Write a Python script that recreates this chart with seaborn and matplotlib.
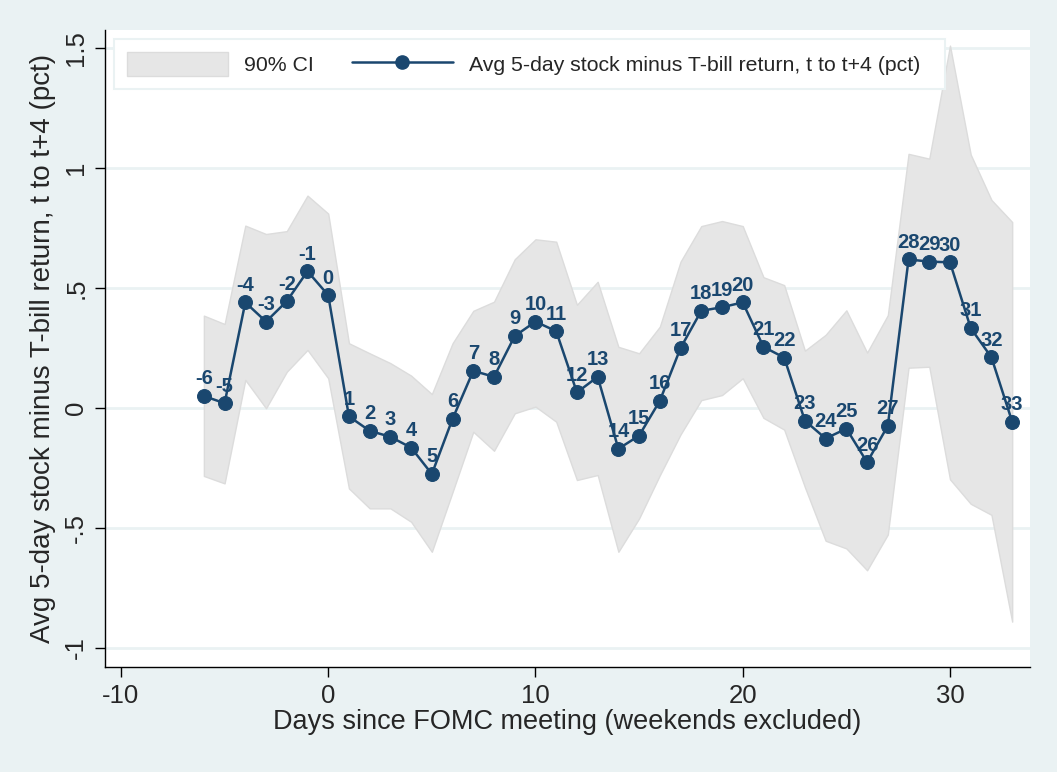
import numpy as np
import pandas as pd
import seaborn as sns
import matplotlib.pyplot as plt
from matplotlib.patches import Patch
from matplotlib.lines import Line2D

# data
days = list(range(-6, 34))
avg_ret = [0.05, 0.02, 0.44, 0.36, 0.445, 0.57, 0.47,
           -0.035, -0.095, -0.12, -0.165, -0.275, -0.045, 0.155, 0.13, 0.30, 0.36,
           0.32, 0.065, 0.13, -0.17, -0.115, 0.03, 0.25, 0.405, 0.42, 0.44,
           0.255, 0.21, -0.053, -0.127, -0.086, -0.226, -0.074, 0.619, 0.61, 0.607,
           0.333, 0.211, -0.057]
ci_upper = [0.385, 0.35, 0.76, 0.725, 0.737, 0.885, 0.81,
            0.27, 0.228, 0.187, 0.135, 0.058, 0.27, 0.405, 0.443, 0.62, 0.703,
            0.693, 0.43, 0.526, 0.255, 0.228, 0.339, 0.61, 0.758, 0.779, 0.758,
            0.545, 0.512, 0.239, 0.305, 0.407, 0.231, 0.387, 1.059, 1.039, 1.51,
            1.056, 0.867, 0.775]
ci_lower = [-0.283, -0.314, 0.117, -0.001, 0.151, 0.242, 0.124,
            -0.335, -0.418, -0.418, -0.474, -0.599, -0.35, -0.099, -0.178, -0.022, 0.006,
            -0.057, -0.30, -0.279, -0.599, -0.46, -0.28, -0.11, 0.033, 0.054, 0.124,
            -0.041, -0.09, -0.33, -0.553, -0.585, -0.676, -0.527, 0.168, 0.172, -0.297,
            -0.399, -0.445, -0.89]

xticks = [-10, 0, 10, 20, 30]
xtick_labels = ["-10", "0", "10", "20", "30"]
yticks = [-1, -0.5, 0, 0.5, 1, 1.5]
ytick_labels = ["-1", "-.5", "0", ".5", "1", "1.5"]

df = pd.DataFrame({"day": days, "ret": avg_ret, "lo": ci_lower, "hi": ci_upper})

sns.set_style("white")
plt.rcParams['font.family'] = ['Liberation Sans', 'DejaVu Sans']

navy = "#1a476f"
bg = "#eaf2f3"
ci_col = "#e6e6e6"

fig = plt.figure(figsize=(10.57, 7.72), dpi=100, facecolor=bg)
ax = fig.add_axes([105/1057, (772-667)/772, (1030-105)/1057, (667-30)/772])
ax.set_facecolor("white")

# gridlines
for yt in yticks:
    ax.axhline(yt, color=bg, lw=2, zorder=0)

ax.fill_between(df["day"], df["lo"], df["hi"], facecolor=ci_col, edgecolor="#dcdcdc",
                lw=1, zorder=1)
sns.lineplot(data=df, x="day", y="ret", ax=ax, color=navy, lw=1.8, marker="o",
             markersize=10, markeredgecolor=navy, markerfacecolor=navy, zorder=3)

for d, r in zip(df["day"], df["ret"]):
    ax.annotate(str(d), (d, r), xytext=(0, 5.5), textcoords="offset points",
                ha="center", va="bottom", fontsize=14.5, fontweight="bold",
                color=navy, zorder=4)

ax.set_xlim(-10.77, 33.86)
ax.set_ylim(-1.079, 1.575)
ax.set_xticks(xticks)
ax.set_xticklabels(xtick_labels, fontsize=18.5)
ax.set_yticks(yticks)
ax.set_yticklabels(ytick_labels, fontsize=18.5, rotation=90, va="center")
ax.tick_params(axis="both", direction="out", length=7, width=1, color="black",
               bottom=True, left=True, pad=5)

for s in ["top", "right"]:
    ax.spines[s].set_visible(False)
for s in ["left", "bottom"]:
    ax.spines[s].set_color("black")
    ax.spines[s].set_linewidth(1)

ax.set_xlabel("Days since FOMC meeting (weekends excluded)", fontsize=19.5, labelpad=1)
ax.set_ylabel("Avg 5-day stock minus T-bill return, t to t+4 (pct)", fontsize=20, labelpad=6)

handles = [Patch(facecolor=ci_col, edgecolor="#dcdcdc"),
           Line2D([0], [0], color=navy, lw=1.8, marker="o", markersize=9.5)]
# trailing spaces give the wider right margin of the original legend box
labels = ["90% CI", "Avg 5-day stock minus T-bill return, t to t+4 (pct)  "]
leg = ax.legend(handles, labels, loc="upper left", bbox_to_anchor=(0.0097, 0.986),
                borderaxespad=0, ncol=2, fontsize=15.3, frameon=True, fancybox=False,
                handlelength=4.75, handleheight=1.32, handletextpad=0.75,
                columnspacing=1.8, borderpad=0.62, numpoints=1)
leg.get_frame().set_edgecolor(bg)
leg.get_frame().set_linewidth(1.5)
leg.get_frame().set_facecolor("white")
leg.get_frame().set_alpha(1)

fig.savefig("out.png", dpi=100, facecolor=bg)
